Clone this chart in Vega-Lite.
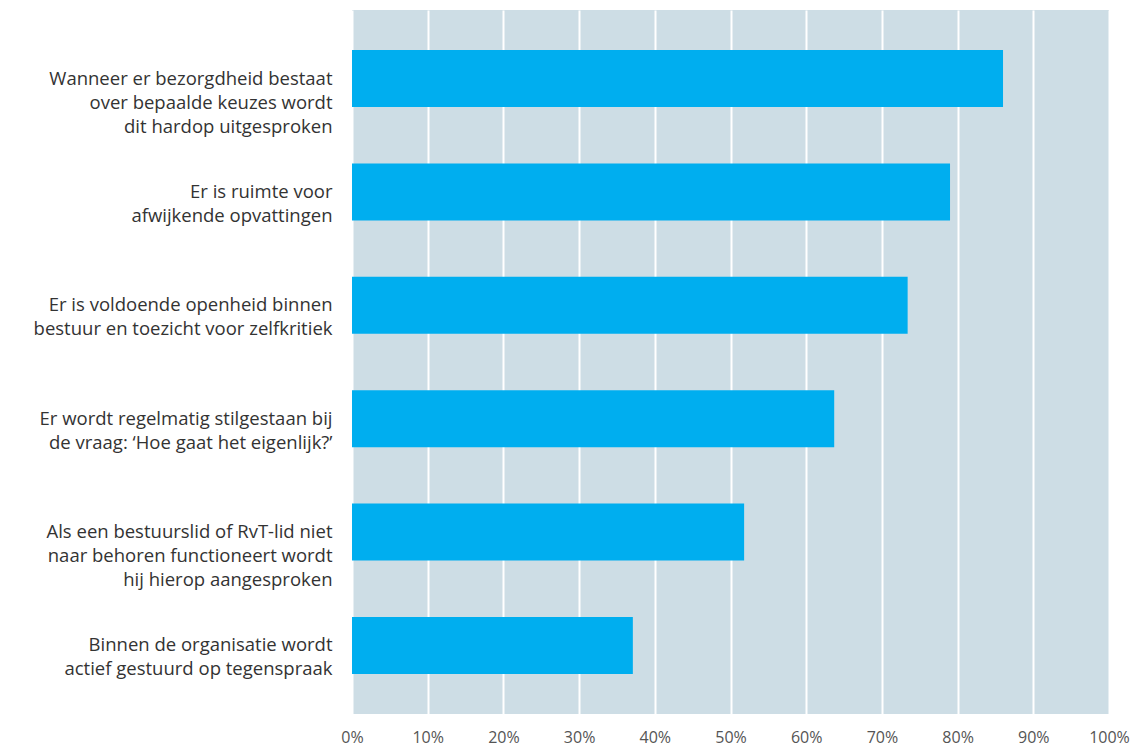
{
  "$schema": "https://vega.github.io/schema/vega-lite/v6.json",
  "autosize": "none",
  "width": 757,
  "height": 704,
  "padding": {"left": 352, "top": 10, "right": 24, "bottom": 33},
  "background": "white",
  "view": {"fill": "#cddde5", "stroke": null},
  "data": {
    "values": [
      {"order": 1, "label": "Wanneer er bezorgdheid bestaat|over bepaalde keuzes wordt|dit hardop uitgesproken", "value": 0.86},
      {"order": 2, "label": "Er is ruimte voor|afwijkende opvattingen", "value": 0.79},
      {"order": 3, "label": "Er is voldoende openheid binnen|bestuur en toezicht voor zelfkritiek", "value": 0.734},
      {"order": 4, "label": "Er wordt regelmatig stilgestaan bij|de vraag: ‘Hoe gaat het eigenlijk?’", "value": 0.637},
      {"order": 5, "label": "Als een bestuurslid of RvT-lid niet|naar behoren functioneert wordt|hij hierop aangesproken", "value": 0.518},
      {"order": 6, "label": "Binnen de organisatie wordt|actief gestuurd op tegenspraak", "value": 0.371}
    ]
  },
  "mark": {"type": "bar", "color": "#00aeef"},
  "encoding": {
    "y": {
      "field": "label",
      "type": "nominal",
      "sort": {"field": "order"},
      "scale": {"paddingInner": 0.497, "paddingOuter": 0.353},
      "axis": {
        "title": null,
        "domain": false,
        "ticks": false,
        "labelExpr": "split(datum.label, '|')",
        "labelFont": "Open Sans",
        "labelFontSize": 18.5,
        "labelColor": "#333333",
        "labelLineHeight": 24,
        "labelPadding": 20,
        "labelLimit": 400
      }
    },
    "x": {
      "field": "value",
      "type": "quantitative",
      "scale": {"domain": [0, 1], "nice": false},
      "axis": {
        "title": null,
        "format": ".0%",
        "values": [0, 0.1, 0.2, 0.3, 0.4, 0.5, 0.6, 0.7, 0.8, 0.9, 1],
        "domain": false,
        "ticks": false,
        "grid": true,
        "gridColor": "white",
        "gridWidth": 2,
        "gridOpacity": 1,
        "labelFont": "Open Sans",
        "labelFontSize": 16,
        "labelColor": "#555555",
        "labelPadding": 15,
        "labelFlush": false
      }
    }
  },
  "config": {"axis": {"zindex": 0}}
}
